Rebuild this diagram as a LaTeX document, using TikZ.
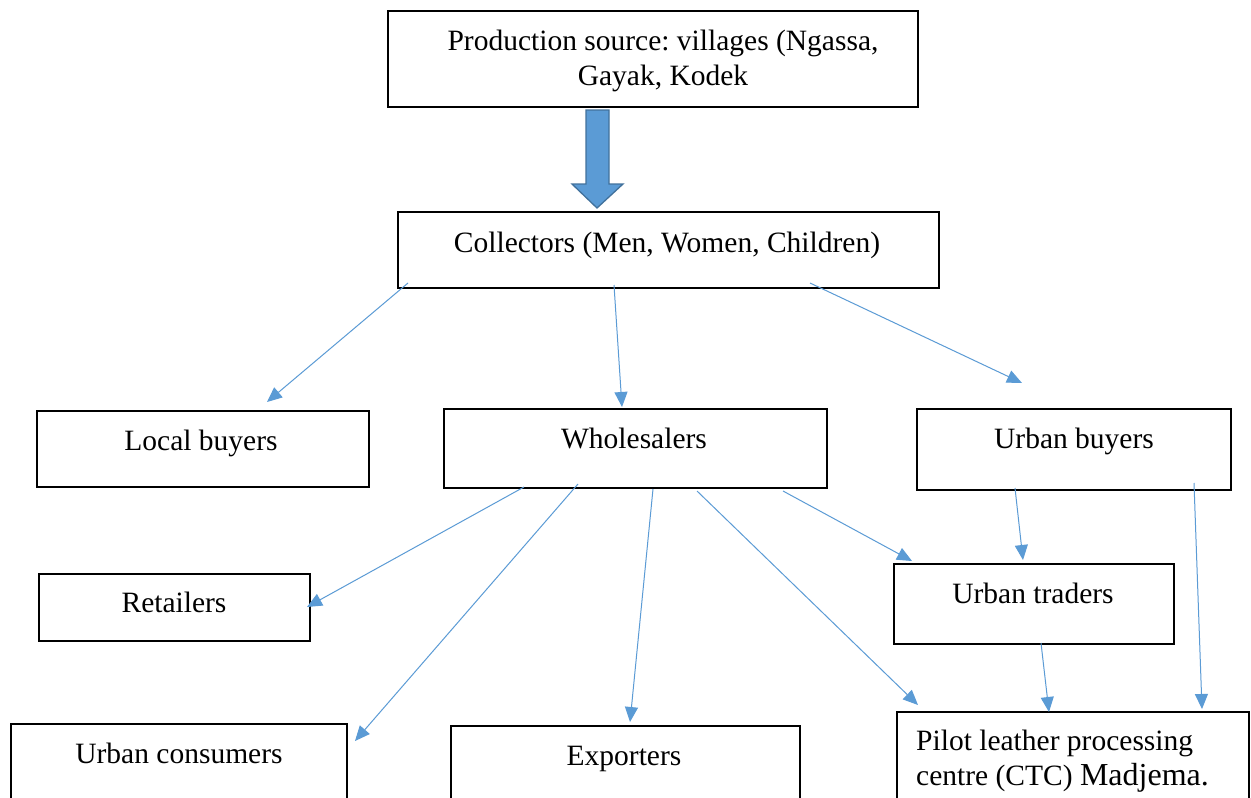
\documentclass[tikz,border=0pt]{standalone}
\usepackage{fontspec}
\setmainfont{Liberation Serif}
\usetikzlibrary{arrows.meta}
\definecolor{linkblue}{HTML}{5B9BD5}
\definecolor{arrowedge}{HTML}{41719C}
\frenchspacing
\begin{document}
\begin{tikzpicture}[x=1pt,y=-1pt,
  box/.style={draw=black,line width=2.4pt,inner sep=0pt,anchor=north west},
  txt/.style={font=\fontsize{29.5}{35}\selectfont,inner sep=0pt,anchor=mid},
  link/.style={draw=linkblue,line width=1pt,-{Triangle[length=15pt,width=13pt]}}]
\useasboundingbox (0,0) rectangle (1251,798);
\clip (0,0) rectangle (1251,798);
\fill[white] (0,0) rectangle (1251,798);
% boxes
\node[box,minimum width=530,minimum height=96] (src) at (387,10) {};
\node[box,minimum width=541,minimum height=76] (coll) at (397,211) {};
\node[box,minimum width=332,minimum height=76] (local) at (36,410) {};
\node[box,minimum width=383,minimum height=79] (whole) at (443,408) {};
\node[box,minimum width=314,minimum height=81] (ubuy) at (916,408) {};
\node[box,minimum width=271,minimum height=67] (ret) at (38,573) {};
\node[box,minimum width=280,minimum height=80] (utr) at (893,563) {};
\node[box,minimum width=336,minimum height=100] (ucons) at (10,723) {};
\node[box,minimum width=349,minimum height=100] (exp) at (450,725) {};
\node[box,minimum width=352,minimum height=110] (pilot) at (896,711) {};
% texts
\node[txt,align=center,anchor=center] (srct) at (663,61) {Production source: villages (Ngassa,\\Gayak, Kodek};
\node[txt] (collt) at (667,250) {Collectors (Men, Women, Children)};
\node[txt] (localt) at (201,448) {Local buyers};
\node[txt] (wholet) at (634,446) {Wholesalers};
\node[txt] (ubuyt) at (1074,446) {Urban buyers};
\node[txt] (rett) at (174,610) {Retailers};
\node[txt] (utrt) at (1033,601) {Urban traders};
\node[txt] (uconst) at (179,761) {Urban consumers};
\node[txt] (expt) at (624,763) {Exporters};
\node[txt,align=left,anchor=north west] (pilott) at (916,730) {Pilot leather processing\\centre (CTC) {\fontsize{32}{35}\selectfont Madjema.}};
% block arrow
\draw[fill=linkblue,draw=arrowedge,line width=1.3pt]
  (586,110) -- (609,110) -- (609,184) -- (623,184) -- (597,208) -- (572,184) -- (586,184) -- cycle;
% connector end points
\coordinate (c1s) at (408,283); \coordinate (c1e) at (267,402);
\coordinate (c2s) at (614,285); \coordinate (c2e) at (622,407);
\coordinate (c3s) at (810,283); \coordinate (c3e) at (1022,383);
\coordinate (w1s) at (524,487); \coordinate (w1e) at (307,607);
\coordinate (w2s) at (578,484); \coordinate (w2e) at (355,741);
\coordinate (w3s) at (653,489); \coordinate (w3e) at (630,722);
\coordinate (w4s) at (697,491); \coordinate (w4e) at (918,705);
\coordinate (w5s) at (783,491); \coordinate (w5e) at (912,561);
\coordinate (u1s) at (1015,488); \coordinate (u1e) at (1023,560);
\coordinate (t1s) at (1041,643); \coordinate (t1e) at (1049,712);
\coordinate (u2s) at (1194,483); \coordinate (u2e) at (1202,709);
\draw[link] (c1s) -- (c1e);
\draw[link] (c2s) -- (c2e);
\draw[link] (c3s) -- (c3e);
\draw[link] (w1s) -- (w1e);
\draw[link] (w2s) -- (w2e);
\draw[link] (w3s) -- (w3e);
\draw[link] (w4s) -- (w4e);
\draw[link] (w5s) -- (w5e);
\draw[link] (u1s) -- (u1e);
\draw[link] (t1s) -- (t1e);
\draw[link] (u2s) -- (u2e);
\end{tikzpicture}
\end{document}
